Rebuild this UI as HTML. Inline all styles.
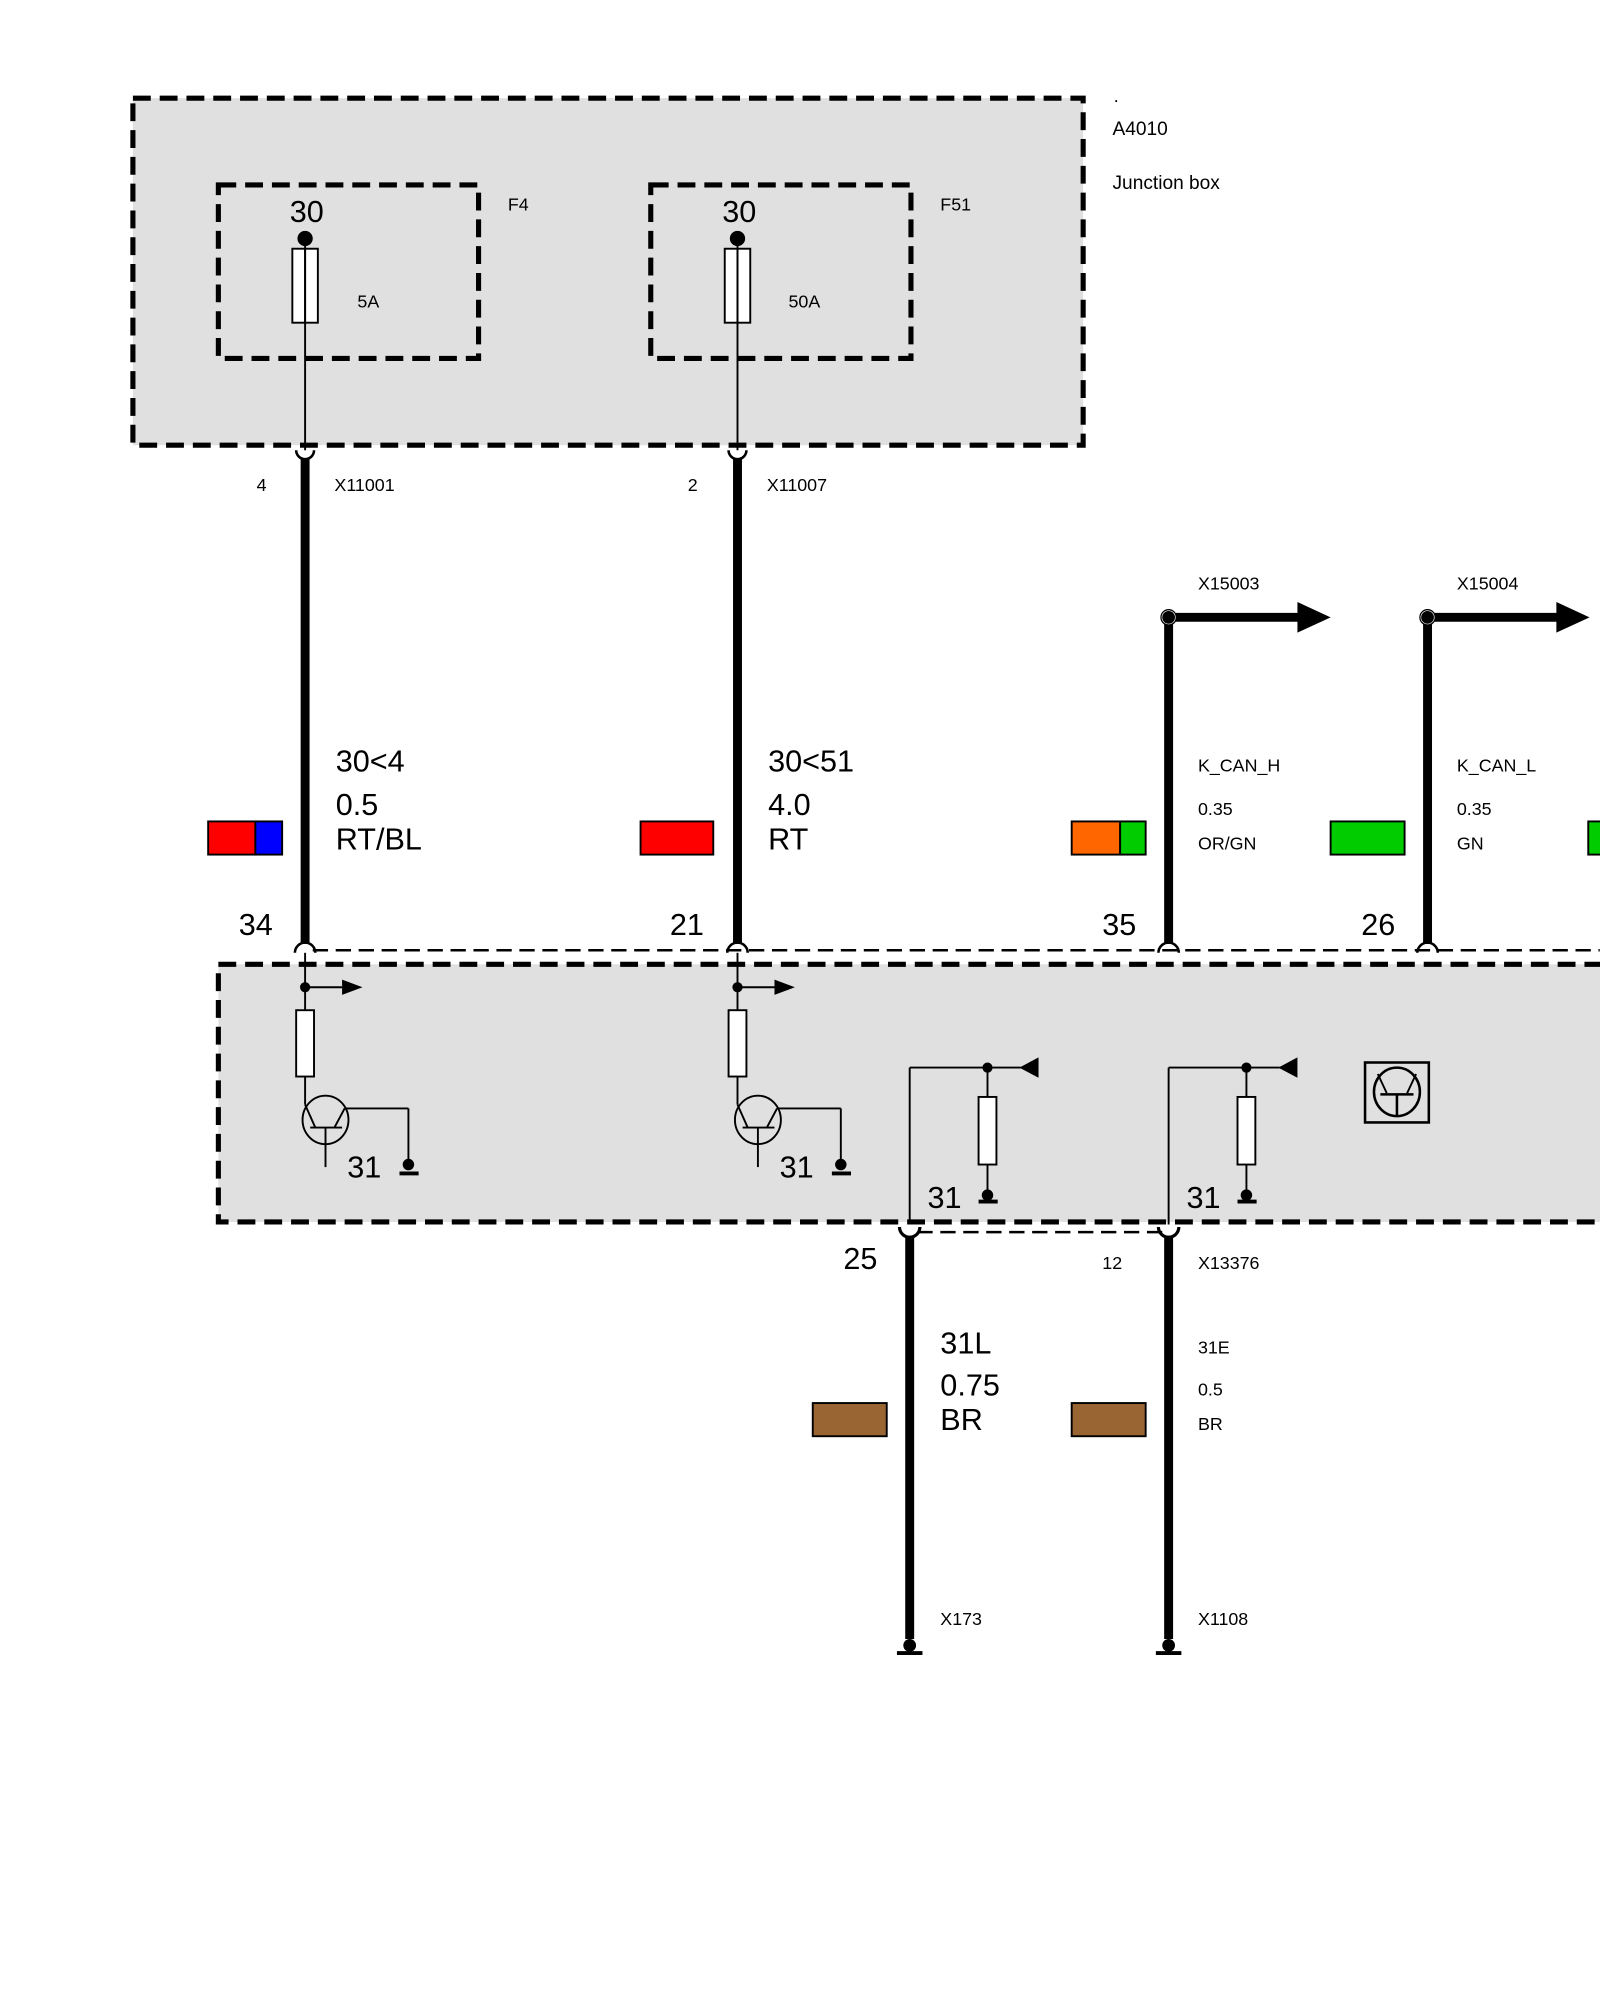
<!DOCTYPE html>
<html><head><style>html,body{margin:0;padding:0;background:#fff}svg{display:block}</style></head>
<body>
<svg width="1600" height="2000" viewBox="0 0 1254 1568" xmlns="http://www.w3.org/2000/svg" font-family="Liberation Sans, sans-serif">
<rect width="1254" height="1568" fill="#fff"/>
<!-- Junction box -->
<rect x="104" y="77" width="745" height="272" fill="#e0e0e0" stroke="#000" stroke-width="4" stroke-dasharray="14,7"/>
<rect x="171" y="145" width="204" height="136" fill="none" stroke="#000" stroke-width="4" stroke-dasharray="14,7"/>
<rect x="510" y="145" width="204" height="136" fill="none" stroke="#000" stroke-width="4" stroke-dasharray="14,7"/>
<text x="873" y="80" font-size="14">.</text>
<text x="872" y="106" font-size="15">A4010</text>
<text x="872" y="148" font-size="15">Junction box</text>
<text x="398" y="165" font-size="14">F4</text>
<text x="737" y="165" font-size="14">F51</text>
<g font-size="24"><text x="227" y="174">30</text><text x="566" y="174">30</text></g>
<text x="280" y="241" font-size="14">5A</text>
<text x="618" y="241" font-size="14">50A</text>
<!-- fuses -->
<g stroke="#000" fill="none" stroke-width="1.5">
<rect x="229" y="195" width="20" height="58" fill="#fff"/><line x1="239" y1="187" x2="239" y2="353"/><line x1="239" y1="195" x2="239" y2="253"/>
<rect x="568" y="195" width="20" height="58" fill="#fff"/><line x1="578" y1="187" x2="578" y2="353"/><line x1="578" y1="195" x2="578" y2="253"/>
</g>
<circle cx="239" cy="187" r="6"/><circle cx="578" cy="187" r="6"/>
<!-- lower box -->
<rect x="171" y="756" width="1100" height="202" fill="#e0e0e0" stroke="#000" stroke-width="4" stroke-dasharray="14,7"/>
<line x1="245" y1="745" x2="1254" y2="745" stroke="#000" stroke-width="2" stroke-dasharray="12,6"/>
<line x1="719" y1="966" x2="912" y2="966" stroke="#000" stroke-width="2" stroke-dasharray="12,6"/>
<!-- top wires -->
<g stroke="#000" fill="none">
<path d="M232,353 a7,7 0 0 0 14,0" stroke-width="2"/><line x1="239" y1="360" x2="239" y2="740" stroke-width="7"/>
<path d="M571,353 a7,7 0 0 0 14,0" stroke-width="2"/><line x1="578" y1="360" x2="578" y2="740" stroke-width="7"/>
<path d="M231,747 a8,8 0 0 1 16,0" stroke-width="2"/>
<path d="M570,747 a8,8 0 0 1 16,0" stroke-width="2"/>
<path d="M908,747 a8,8 0 0 1 16,0" stroke-width="2"/>
<path d="M1111,747 a8,8 0 0 1 16,0" stroke-width="2"/>
<line x1="916" y1="484" x2="916" y2="740" stroke-width="7"/>
<line x1="1119" y1="484" x2="1119" y2="740" stroke-width="7"/>
<line x1="916" y1="484" x2="1020" y2="484" stroke-width="7"/>
<line x1="1119" y1="484" x2="1222" y2="484" stroke-width="7"/>
</g>
<polygon points="1017,472 1043,484 1017,496"/><polygon points="1220,472 1246,484 1220,496"/>
<circle cx="916" cy="484" r="6" fill="#fff" stroke="#000" stroke-width="1"/>
<circle cx="1119" cy="484" r="6" fill="#fff" stroke="#000" stroke-width="1"/>
<circle cx="916" cy="484" r="5"/><circle cx="1119" cy="484" r="5"/>
<!-- labels -->
<g font-size="14"><text x="201" y="385">4</text><text x="262" y="385">X11001</text>
<text x="539" y="385">2</text><text x="601" y="385">X11007</text>
<text x="939" y="462">X15003</text><text x="1142" y="462">X15004</text>
<text x="939" y="605">K_CAN_H</text><text x="939" y="639">0.35</text><text x="939" y="666">OR/GN</text>
<text x="1142" y="605">K_CAN_L</text><text x="1142" y="639">0.35</text><text x="1142" y="666">GN</text>
<text x="864" y="995">12</text><text x="939" y="995">X13376</text>
<text x="939" y="1061">31E</text><text x="939" y="1094">0.5</text><text x="939" y="1121">BR</text>
<text x="737" y="1274">X173</text><text x="939" y="1274">X1108</text></g>
<g font-size="24"><text x="263" y="605">30&lt;4</text><text x="263" y="639">0.5</text><text x="263" y="666">RT/BL</text>
<text x="602" y="605">30&lt;51</text><text x="602" y="639">4.0</text><text x="602" y="666">RT</text>
<text x="187" y="733">34</text><text x="525" y="733">21</text><text x="864" y="733">35</text><text x="1067" y="733">26</text>
<text x="661" y="995">25</text>
<text x="737" y="1061">31L</text><text x="737" y="1094">0.75</text><text x="737" y="1121">BR</text>
<text x="272" y="923">31</text><text x="611" y="923">31</text><text x="727" y="947">31</text><text x="930" y="947">31</text></g>
<!-- chips -->
<g stroke="#000" stroke-width="1.5">
<rect x="163" y="644" width="37" height="26" fill="#ff0000"/><rect x="200" y="644" width="21" height="26" fill="#0000ff"/>
<rect x="502" y="644" width="57" height="26" fill="#ff0000"/>
<rect x="840" y="644" width="38" height="26" fill="#ff6600"/><rect x="878" y="644" width="20" height="26" fill="#00cc00"/>
<rect x="1043" y="644" width="58" height="26" fill="#00cc00"/>
<rect x="1245" y="644" width="20" height="26" fill="#00cc00"/>
<rect x="637" y="1100" width="58" height="26" fill="#996633"/>
<rect x="840" y="1100" width="58" height="26" fill="#996633"/>
</g>
<!-- internal circuits left -->
<g stroke="#000" stroke-width="1.5" fill="none">
<line x1="239" y1="747" x2="239" y2="792"/><line x1="239" y1="774" x2="268" y2="774"/>
<rect x="232" y="792" width="14" height="52" fill="#fff"/>
<line x1="239" y1="844" x2="239" y2="866"/>
<ellipse cx="255" cy="878" rx="18" ry="19"/>
<line x1="239" y1="866" x2="247" y2="884"/><line x1="243" y1="884" x2="268" y2="884"/>
<line x1="262" y1="884" x2="270" y2="869"/><line x1="270" y1="869" x2="320" y2="869"/><line x1="320" y1="869" x2="320" y2="910"/>
<line x1="255" y1="884" x2="255" y2="915"/><line x1="313" y1="920" x2="328" y2="920" stroke-width="3"/>

<line x1="578" y1="747" x2="578" y2="792"/><line x1="578" y1="774" x2="607" y2="774"/>
<rect x="571" y="792" width="14" height="52" fill="#fff"/>
<line x1="578" y1="844" x2="578" y2="866"/>
<ellipse cx="594" cy="878" rx="18" ry="19"/>
<line x1="578" y1="866" x2="586" y2="884"/><line x1="582" y1="884" x2="607" y2="884"/>
<line x1="601" y1="884" x2="609" y2="869"/><line x1="609" y1="869" x2="659" y2="869"/><line x1="659" y1="869" x2="659" y2="910"/>
<line x1="594" y1="884" x2="594" y2="915"/><line x1="652" y1="920" x2="667" y2="920" stroke-width="3"/>

<!-- right internal -->
<line x1="713" y1="960" x2="713" y2="837"/><line x1="713" y1="837" x2="800" y2="837"/>
<line x1="774" y1="837" x2="774" y2="860"/><rect x="767" y="860" width="14" height="53" fill="#fff"/><line x1="774" y1="913" x2="774" y2="935"/>
<line x1="767" y1="942" x2="782" y2="942" stroke-width="3"/>
<line x1="916" y1="960" x2="916" y2="837"/><line x1="916" y1="837" x2="1003" y2="837"/>
<line x1="977" y1="837" x2="977" y2="860"/><rect x="970" y="860" width="14" height="53" fill="#fff"/><line x1="977" y1="913" x2="977" y2="935"/>
<line x1="970" y1="942" x2="985" y2="942" stroke-width="3"/>
<rect x="1070" y="833" width="50" height="47" stroke-width="2"/>
<ellipse cx="1095" cy="856" rx="18" ry="19" stroke-width="2"/>
<line x1="1082" y1="858" x2="1108" y2="858" stroke-width="2"/><line x1="1095" y1="858" x2="1095" y2="875" stroke-width="2"/>
<line x1="1080" y1="842" x2="1087" y2="857"/><line x1="1110" y1="842" x2="1103" y2="857"/>
</g>
<polygon points="268,768 284,774 268,780"/><polygon points="607,768 623,774 607,780"/>
<polygon points="799,837 814,829 814,845"/><polygon points="1002,837 1017,829 1017,845"/>
<circle cx="239" cy="774" r="4"/><circle cx="578" cy="774" r="4"/>
<circle cx="774" cy="837" r="4"/><circle cx="977" cy="837" r="4"/>
<circle cx="320" cy="913" r="4.5"/><circle cx="659" cy="913" r="4.5"/>
<circle cx="774" cy="937" r="4.5"/><circle cx="977" cy="937" r="4.5"/>
<!-- bottom wires -->
<g stroke="#000" fill="none">
<path d="M705,962 a8,8 0 0 0 16,0" stroke-width="2.5"/><line x1="713" y1="970" x2="713" y2="1285" stroke-width="7"/>
<path d="M908,962 a8,8 0 0 0 16,0" stroke-width="2.5"/><line x1="916" y1="970" x2="916" y2="1285" stroke-width="7"/>
<line x1="703" y1="1296" x2="723" y2="1296" stroke-width="3"/><line x1="906" y1="1296" x2="926" y2="1296" stroke-width="3"/>
</g>
<circle cx="713" cy="1290" r="5"/><circle cx="916" cy="1290" r="5"/>
</svg>
</body></html>
